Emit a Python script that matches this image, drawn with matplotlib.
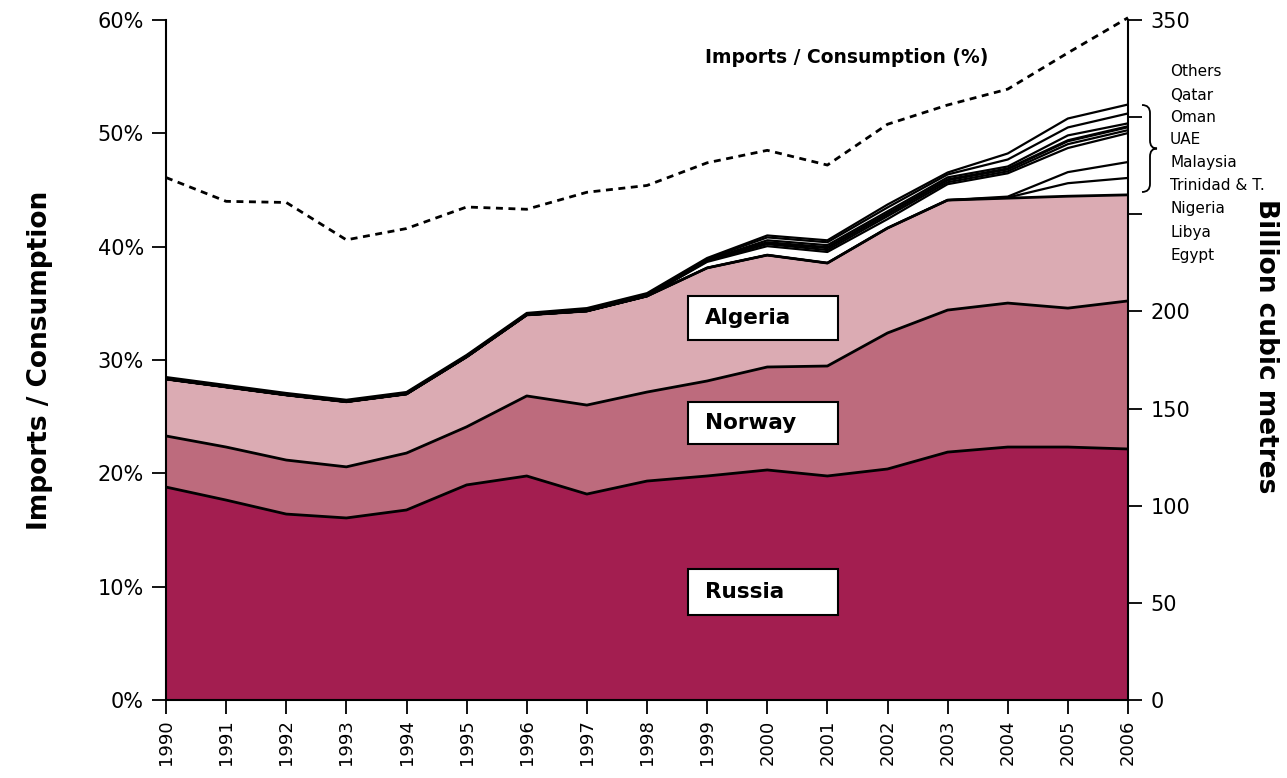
import matplotlib
matplotlib.use("Agg")
import matplotlib.pyplot as plt
from matplotlib import font_manager
from matplotlib.patches import Rectangle, PathPatch
from matplotlib.path import Path
import numpy as np

# ---------------- data ----------------
years = list(range(1990, 2007))
russia   = [109.6, 102.9, 95.7, 93.7, 97.8, 110.7, 115.3, 106.0, 112.7, 115.3, 118.4, 115.3, 118.9, 127.6, 130.2, 130.2, 129.2]
norway   = [26.3, 27.3, 27.8, 26.3, 29.3, 29.9, 41.2, 45.8, 45.8, 48.9, 53.0, 56.6, 70.0, 73.1, 74.1, 71.5, 76.2]
algeria  = [29.3, 30.9, 33.5, 33.5, 30.4, 36.0, 41.7, 48.4, 49.4, 58.2, 57.6, 53.0, 54.0, 56.6, 54.0, 57.6, 54.6]
egypt    = [0, 0, 0, 0, 0, 0, 0, 0, 0, 0, 0, 0, 0, 0, 0.3, 6.7, 8.7]
libya    = [0, 0, 0, 0, 0, 0, 0, 0, 0, 0, 0, 0, 0, 0, 0.5, 5.7, 8.2]
nigeria  = [0, 0, 0, 0, 0, 0, 0, 0, 0, 3.1, 4.6, 5.7, 4.6, 8.2, 12.0, 12.4, 14.9]
trinidad = [0, 0, 0, 0, 0, 0, 0, 0, 0, 0.5, 1.0, 1.0, 1.5, 1.0, 1.0, 2.0, 1.5]
malaysia = [0, 0, 0, 0, 0, 0, 0, 0, 0, 0, 0.5, 1.0, 1.0, 1.0, 1.0, 1.5, 1.5]
uae      = [0.5] * 17
oman     = [0, 0, 0, 0, 0, 0, 0, 0, 0, 0, 1.0, 1.0, 1.0, 1.0, 1.0, 2.5, 1.5]
qatar    = [0, 0, 0, 0, 0, 0, 0, 0.5, 0.5, 0.5, 1.5, 1.5, 2.0, 1.5, 3.6, 4.1, 5.1]
others   = [0.5, 0.5, 0.5, 0.5, 0.5, 0.5, 0.5, 0.5, 0.5, 0.5, 1.0, 1.0, 1.5, 1.0, 3.1, 4.6, 4.6]
import_share = [46.1, 44.0, 43.9, 40.6, 41.6, 43.5, 43.3, 44.8, 45.4, 47.4, 48.5, 47.2, 50.8, 52.5, 53.9, 57.1, 60.2]

small_labels = ["Others", "Qatar", "Oman", "UAE", "Malaysia", "Trinidad & T.", "Nigeria", "Libya", "Egypt"]
left_ticks = [0, 10, 20, 30, 40, 50, 60]
right_ticks = [0, 50, 100, 150, 200, 250, 300, 350]
right_labels = ["0", "50", "100", "150", "200", "", "", "350"]

# ---------------- fonts ----------------
avail = {f.name for f in font_manager.fontManager.ttflist}
fam = [f for f in ["Liberation Sans Narrow", "DejaVu Sans"] if f in avail] or ["DejaVu Sans"]
plt.rcParams['font.family'] = fam

c_russia = "#A31E50"
c_norway = "#BD6B7D"
c_algeria = "#DBABB3"

fig = plt.figure(figsize=(12.87, 7.78), dpi=100)
ax = fig.add_axes([166/1287, 78/778, 962/1287, 680/778])

layers = [russia, norway, algeria, egypt, libya, nigeria, trinidad, malaysia, uae, oman, qatar, others]
colors = [c_russia, c_norway, c_algeria] + ["white"] * 9
ys = np.vstack([np.array(l, dtype=float) for l in layers])
cum = np.cumsum(ys, axis=0)
base = np.zeros(len(years))
for i in range(len(layers)):
    ax.fill_between(years, base, cum[i], facecolor=colors[i], edgecolor="none", zorder=1)
    base = cum[i]
for i in range(len(layers)):
    lw = 2.0 if i < 3 else 1.6
    ax.plot(years, cum[i], color="black", lw=lw, zorder=2, solid_joinstyle="round")

ax.set_xlim(1990, 2006)
ax.set_ylim(0, 350)
ax.set_xticks(years)
ax.set_xticklabels([str(y) for y in years], rotation=90)
for s in ["top", "left"]:
    ax.spines[s].set_visible(False)
for s in ["right", "bottom"]:
    ax.spines[s].set_linewidth(1.5)

ax2 = ax.twinx()
# primary axes carries the right-hand (bcm) scale
ax.yaxis.tick_right()
ax.yaxis.set_label_position("right")
ax.set_yticks(right_ticks)
ax.set_yticklabels(right_labels)
ax.tick_params(axis="x", direction="out", length=10, width=1.3, labelsize=13, pad=4)
ax.tick_params(axis="y", which="both", direction="out", length=10, width=1.3, labelsize=15, pad=6,
               left=False, labelleft=False, right=True, labelright=True)
ax.set_ylabel("Billion cubic metres", rotation=270, fontsize=19, fontweight="bold")
ax.yaxis.set_label_coords(1.157, 0.52)

ax2.set_ylim(0, 60)
ax2.set_xlim(1990, 2006)
ax2.yaxis.tick_left()
ax2.yaxis.set_label_position("left")
ax2.set_yticks(left_ticks)
ax2.set_yticklabels([f"{v}%" for v in left_ticks])
ax2.plot(years, import_share, color="black", lw=2.0, ls=(0, (2.5, 2.0)), clip_on=False, zorder=5)
for s in ["top", "right", "bottom"]:
    ax2.spines[s].set_visible(False)
ax2.spines["left"].set_linewidth(1.5)
ax2.tick_params(axis="y", direction="out", length=10, width=1.3, labelsize=15, pad=6,
                right=False, labelright=False, left=True, labelleft=True)
ax2.set_ylabel("Imports / Consumption", fontsize=19, fontweight="bold")
ax2.yaxis.set_label_coords(-0.117, 0.50)

ax2.text(0.56, 0.945, "Imports / Consumption (%)", transform=ax2.transAxes,
         fontsize=13.5, fontweight="bold", ha="left", va="center")

# label boxes
boxes = [("Algeria", 0.5294, 0.0647), ("Norway", 0.3765, 0.0618), ("Russia", 0.125, 0.0676)]
for name, y0, h in boxes:
    ax2.add_patch(Rectangle((0.5426, y0), 0.1559, h, transform=ax2.transAxes,
                            facecolor="white", edgecolor="black", lw=1.5, zorder=6))
    ax2.text(0.560, y0 + h / 2, name, transform=ax2.transAxes, fontsize=15.5,
             fontweight="bold", ha="left", va="center", zorder=7)

# right-side country list
label_y = [72, 95, 117, 140, 163, 186, 209, 232, 256]
for lab, py in zip(small_labels, label_y):
    fig.text(1170 / 1287, 1 - py / 778, lab, fontsize=11, ha="left", va="center")

# curly brace
bx, top, bot = 1150, 105, 192
mid = (top + bot) / 2
def P(x, y):
    return (x / 1287, 1 - y / 778)
verts = [P(bx - 8, top), P(bx, top), P(bx, top + 8),
         P(bx, mid - 8),
         P(bx, mid), P(bx + 7, mid),
         P(bx, mid), P(bx, mid + 8),
         P(bx, bot - 8),
         P(bx, bot), P(bx - 8, bot)]
codes = [Path.MOVETO, Path.CURVE3, Path.CURVE3,
         Path.LINETO,
         Path.CURVE3, Path.CURVE3,
         Path.CURVE3, Path.CURVE3,
         Path.LINETO,
         Path.CURVE3, Path.CURVE3]
fig.patches.append(PathPatch(Path(verts, codes), transform=fig.transFigure,
                             facecolor="none", edgecolor="black", lw=1.3))

fig.savefig("out.png", dpi=100)
